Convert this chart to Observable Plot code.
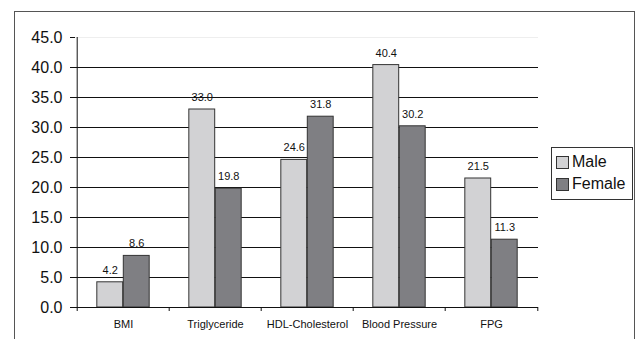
<!DOCTYPE html>
<html>
<head>
<meta charset="utf-8">
<script src="https://cdn.jsdelivr.net/npm/d3@7"></script>
<script src="https://cdn.jsdelivr.net/npm/@observablehq/plot@0.6"></script>
<style>
  body { margin: 0; background: #fff; font-family: "Liberation Sans", Arial, sans-serif; }
  #wrap { position: relative; width: 638px; height: 339px; overflow: hidden; }
  #border { position: absolute; left: 14px; top: 11px; width: 621px; height: 340px; border: 1.5px solid #555; box-sizing: border-box; }
  #legend { position: absolute; left: 551px; top: 147px; width: 82px; height: 53px; border: 1px solid #333; box-sizing: border-box; background: #fff; font-size: 16px; color: #111; padding: 3px 0 0 4px; }
  .row { display: flex; align-items: center; height: 22px; }
  .sw { width: 11px; height: 11px; border: 1px solid #333; margin-right: 3px; }
  #chart { position: absolute; left: 0; top: 0; }
</style>
</head>
<body>
<div id="wrap">
  <div id="chart"></div>
  <div id="border"></div>
  <div id="legend"></div>
</div>
<script>
const categories = ["BMI", "Triglyceride", "HDL-Cholesterol", "Blood Pressure", "FPG"];
const male = [4.2, 33.0, 24.6, 40.4, 21.5];
const female = [8.6, 19.8, 31.8, 30.2, 11.3];
const series = ["Male", "Female"];
const yTicks = [0, 5, 10, 15, 20, 25, 30, 35, 40, 45];
const colors = {Male: "#d2d2d4", Female: "#7f7f83"};

const data = categories.map((c, i) => ({cat: c, male: male[i], female: female[i]}));

const W = 638, H = 339, mL = 75, mR = 100, mT = 37, mB = 32;
const bw = (W - mL - mR) / categories.length;   // band width in px
const barW = bw * 0.286;
const outer = (bw - 2 * barW) / 2;

const plot = Plot.plot({
  width: W, height: H,
  marginLeft: mL, marginRight: mR, marginTop: mT, marginBottom: mB,
  style: {fontFamily: "Liberation Sans, Arial, sans-serif", background: "transparent", color: "#111"},
  x: {domain: categories, padding: 0},
  y: {domain: [0, 45]},
  marks: [
    Plot.ruleY(yTicks.filter(t => t > 0 && t < 45), {stroke: "#111", strokeWidth: 1}),
    Plot.ruleY([45], {stroke: "#eee", strokeWidth: 1}),
    Plot.barY(data, {x: "cat", y: "male", fill: colors.Male, stroke: "#333", strokeWidth: 1, insetLeft: outer, insetRight: outer + barW}),
    Plot.barY(data, {x: "cat", y: "female", fill: colors.Female, stroke: "#333", strokeWidth: 1, insetLeft: outer + barW, insetRight: outer}),
    Plot.text(data, {x: "cat", y: "male", text: d => d.male.toFixed(1), dx: -barW / 2, dy: -12, fontSize: 11, fill: "#111"}),
    Plot.text(data, {x: "cat", y: "female", text: d => d.female.toFixed(1), dx: barW / 2, dy: -12, fontSize: 11, fill: "#111"}),
    Plot.ruleY([0], {stroke: "#111", strokeWidth: 1}),
    Plot.ruleX([categories[0]], {y1: 0, y2: 45, dx: -bw / 2, stroke: "#111", strokeWidth: 1}),
    Plot.axisY({ticks: yTicks, tickFormat: d => d.toFixed(1), tickSize: 5, tickPadding: 8, fontSize: 16, label: null, stroke: "#111", color: "#111"}),
    Plot.axisX({tickSize: 0, tickPadding: 13, fontSize: 11, label: null, color: "#111"}),
    Plot.axisX({tickSize: 4, tickFormat: () => "", dx: -bw / 2, label: null, stroke: "#111"}),
    Plot.axisX({ticks: [categories[categories.length - 1]], tickSize: 4, tickFormat: () => "", dx: bw / 2, label: null, stroke: "#111"})
  ]
});
document.getElementById("chart").appendChild(plot);

const legend = document.getElementById("legend");
series.forEach(s => {
  const row = document.createElement("div");
  row.className = "row";
  const sw = document.createElement("div");
  sw.className = "sw";
  sw.style.background = colors[s];
  const t = document.createElement("span");
  t.textContent = s;
  row.appendChild(sw);
  row.appendChild(t);
  legend.appendChild(row);
});
</script>
</body>
</html>
